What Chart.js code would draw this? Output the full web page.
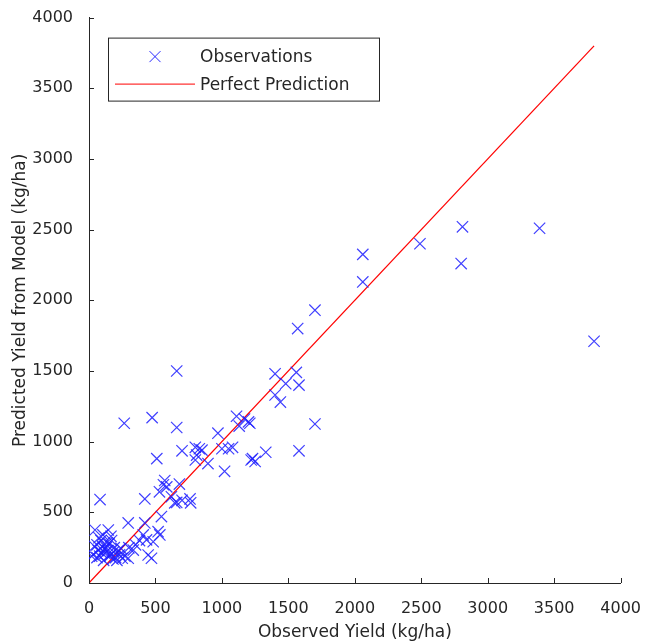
<!DOCTYPE html>
<html>
<head>
<meta charset="utf-8">
<script src="https://cdn.jsdelivr.net/npm/chart.js@4.4.1/dist/chart.umd.min.js"></script>
<style>
  body { margin: 0; background: #fff; }
  #wrap { width: 649px; height: 643px; }
</style>
</head>
<body>
<div id="wrap"><canvas id="myChartYield" width="649" height="643"></canvas></div>
<script>
// observed vs predicted yield, kg/ha
var observedYield = [
  3800, 3390, 2810, 2800, 2490, 2060, 2060, 1700, 1570,
  1560, 1400, 1480, 1580, 1400, 1440, 1700, 1580, 1330,
  1110, 1170, 1200, 1130, 1210, 970, 1000, 1050, 1080, 1020, 1220, 1250, 1230,
  660, 265, 475, 660,
  700, 800, 830, 810, 850, 800, 895, 510,
  570, 560, 585, 680, 530, 760, 620, 700, 660,
  545, 420, 295, 420, 645, 765, 83,
  520, 533, 408, 433, 483, 445, 470, 333, 295,
  45, 145, 105, 60, 100, 150, 190, 30, 80, 120, 160, 200, 250, 110,
  140, 70, 170, 220, 90, 130, 60, 180, 230, 270, 300, 350, 380, 20, 40, 210,
  115, 165, 95, 135, 75, 185, 240, 155
];
var predictedYield = [
  1710, 2510, 2520, 2260, 2400, 2325, 2130, 1930, 1800,
  1490, 1480, 1410, 1400, 1330, 1280, 1125, 935, 925,
  1180, 1160, 1140, 1110, 1130, 1060, 950, 950, 960, 790, 870, 860, 880,
  1500, 1130, 1170, 1100,
  935, 960, 950, 905, 940, 870, 845, 880,
  725, 695, 680, 700, 645, 595, 610, 585, 570,
  470, 595, 425, 425, 567, 567, 590,
  363, 340, 340, 305, 292, 198, 175, 233, 175,
  375, 375, 340, 270, 260, 280, 250, 200, 190, 210, 200, 180, 175, 160,
  230, 230, 300, 230, 300, 250, 180, 170, 200, 190, 250, 270, 300, 190, 260, 160,
  240, 330, 215, 285, 320, 220, 245, 190
];
var perfectX = [0, 3800];
var axisTicks = [0, 500, 1000, 1500, 2000, 2500, 3000, 3500, 4000];

var scatterPts = observedYield.map(function (v, i) { return { x: v, y: predictedYield[i] }; });
var linePts = perfectX.map(function (v) { return { x: v, y: v }; });

var txtColor = '#262626';
var fontFam = '"DejaVu Sans", "Liberation Sans", sans-serif';

// MATLAB style ticks pointing into the plot + boxed legend
const matlabBits = {
  id: 'matlabBits',
  afterDraw(chart) {
    const c = chart.ctx, a = chart.chartArea;
    const xs = chart.scales.x, ys = chart.scales.y;
    c.save();
    c.strokeStyle = txtColor;
    c.lineWidth = 1;
    c.beginPath();
    axisTicks.forEach(function (t) {
      var px = Math.round(xs.getPixelForValue(t)) + 0.5;
      c.moveTo(px, a.bottom); c.lineTo(px, a.bottom - 5);
      var py = Math.round(ys.getPixelForValue(t)) + 0.5;
      c.moveTo(a.left, py); c.lineTo(a.left + 5, py);
    });
    c.stroke();

    // legend box
    var lx = a.left + 19, ly = a.top + 20, lw = 271, lh = 63;
    c.fillStyle = '#fff';
    c.fillRect(lx, ly, lw, lh);
    c.strokeRect(lx + 0.5, ly + 0.5, lw, lh);
    // cross marker
    c.strokeStyle = 'rgb(40,40,255)';
    c.beginPath();
    var mx = lx + 47, my = ly + 19, r = 5.5;
    c.moveTo(mx - r, my - r); c.lineTo(mx + r, my + r);
    c.moveTo(mx - r, my + r); c.lineTo(mx + r, my - r);
    c.stroke();
    // red line
    c.strokeStyle = 'rgb(255,0,0)';
    c.beginPath();
    c.moveTo(lx + 7, ly + 46.5); c.lineTo(lx + 87, ly + 46.5);
    c.stroke();
    c.fillStyle = txtColor;
    c.font = '17px ' + fontFam;
    c.textBaseline = 'middle';
    c.fillText('Observations', lx + 92, my + 1);
    c.fillText('Perfect Prediction', lx + 92, ly + 48);
    c.restore();
  }
};

const ctx = document.getElementById('myChartYield').getContext('2d');
const myChart = new Chart(ctx, {
  type: 'scatter',
  data: {
    datasets: [{
      label: 'Observations',
      data: scatterPts,
      pointStyle: 'crossRot',
      pointRadius: 8,
      pointBorderWidth: 1.2,
      borderColor: 'rgba(30,30,255,0.85)',
      backgroundColor: 'rgba(30,30,255,0.85)'
    }, {
      label: 'Perfect Prediction',
      type: 'line',
      data: linePts,
      borderColor: 'rgb(255,0,0)',
      borderWidth: 1.2,
      pointRadius: 0,
      fill: false
    }]
  },
  plugins: [matlabBits],
  options: {
    responsive: false,
    animation: false,
    layout: { padding: { top: 17, right: 27, left: 0, bottom: 0 } },
    plugins: {
      legend: { display: false },
      tooltip: { enabled: false }
    },
    scales: {
      x: {
        type: 'linear',
        min: 0,
        max: 4000,
        afterFit: function (s) { s.height = 60; },
        afterBuildTicks: function (s) { s.ticks = axisTicks.map(function (v) { return { value: v }; }); },
        grid: { display: false },
        border: { display: true, color: txtColor, width: 1 },
        ticks: {
          color: txtColor, padding: 8, maxRotation: 0,
          font: { family: fontFam, size: 16 },
          callback: function (v) { return String(v); }
        },
        title: {
          display: true,
          text: 'Observed Yield (kg/ha)',
          color: txtColor,
          font: { family: fontFam, size: 17 },
          padding: { top: 0, bottom: 0 }
        }
      },
      y: {
        type: 'linear',
        min: 0,
        max: 4000,
        afterFit: function (s) { s.width = 89; },
        afterBuildTicks: function (s) { s.ticks = axisTicks.map(function (v) { return { value: v }; }); },
        grid: { display: false },
        border: { display: true, color: txtColor, width: 1 },
        ticks: {
          color: txtColor, padding: 8,
          font: { family: fontFam, size: 16 },
          callback: function (v) { return String(v); }
        },
        title: {
          display: true,
          text: 'Predicted Yield from Model (kg/ha)',
          color: txtColor,
          font: { family: fontFam, size: 17 },
          padding: { top: 10, bottom: 0 }
        }
      }
    }
  }
});
</script>
</body>
</html>
